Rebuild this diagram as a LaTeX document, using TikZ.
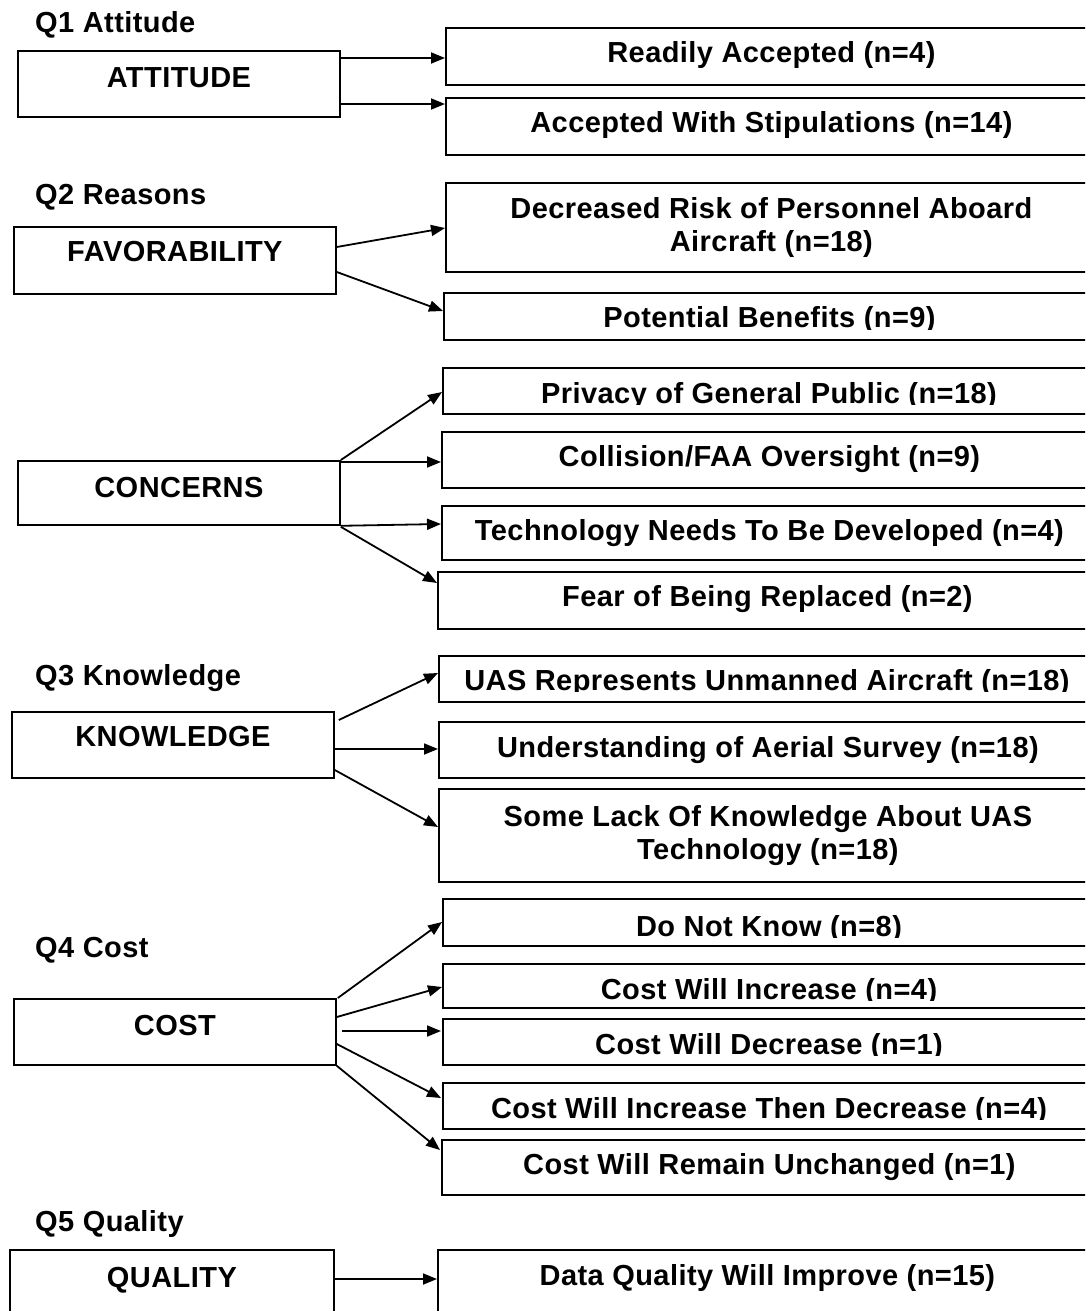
\documentclass[tikz,border=0pt]{standalone}
\usepackage{fontspec}
\setmainfont[LetterSpace=1.5]{Liberation Sans}
\usetikzlibrary{arrows.meta,calc}
\begin{document}
\begin{tikzpicture}[x=1pt,y=-1pt,
  every node/.style={font=\fontsize{29}{33}\selectfont\bfseries},
  bx/.style={draw, line width=1.8pt, inner xsep=0pt, inner ysep=0pt, anchor=north west},
  lb/.style={inner sep=0pt},
  arr/.style={line width=1.8pt, -{Triangle[length=14pt,width=11pt]}}]
\useasboundingbox (0,0) rectangle (1085,1311);
\clip (0,0) rectangle (1085,1311);

% question labels
\node[lb, anchor=base west] (q1) at (35,33) {Q1 Attitude};
\node[lb, anchor=base west] (q2) at (35,204) {Q2 Reasons};
\node[lb, anchor=base west] (q3) at (35,685) {Q3 Knowledge};
\node[lb, anchor=base west] (q4) at (35,957) {Q4 Cost};
\node[lb, anchor=base west] (q5) at (35,1231) {Q5 Quality};

% left boxes
\node[bx, minimum width=322pt, text height=37pt, text depth=29pt] (att) at (17,50) {ATTITUDE};
\node[bx, minimum width=322pt, text height=35pt, text depth=32pt] (fav) at (13,226) {FAVORABILITY};
\node[bx, minimum width=322pt, text height=37pt, text depth=27pt] (con) at (17,460) {CONCERNS};
\node[bx, minimum width=322pt, text height=35pt, text depth=31pt] (kno) at (11,711) {KNOWLEDGE};
\node[bx, minimum width=322pt, text height=37pt, text depth=29pt] (cost) at (13,998) {COST};
\node[bx, minimum width=324pt, text height=38pt, text depth=29pt] (qua) at (9,1249) {QUALITY};

% right boxes
\node[bx, minimum width=651pt, text height=35pt, text depth=22pt] (ra) at (445,27) {Readily Accepted (n=4)};
\node[bx, minimum width=651pt, text height=35pt, text depth=22pt] (aws) at (445,97) {Accepted With Stipulations (n=14)};
\node[bx, minimum width=651pt, minimum height=89pt, align=center] (dr) at (445,182) {Decreased Risk of Personnel Aboard\\Aircraft (n=18)};

\node[bx, minimum width=653pt, minimum height=47pt] (pb) at (443,292) {};
\begin{scope}
\clip (pb.north west) rectangle ($(pb.north east)+(0,37.5)$);
\node[lb, anchor=base] (pbt) at (769.5,327.5) {Potential Benefits (n=9)};
\end{scope}

\node[bx, minimum width=654pt, minimum height=46pt] (pr) at (442,367) {};
\begin{scope}
\clip (pr.north west) rectangle ($(pr.north east)+(0,37.5)$);
\node[lb, anchor=base] (prt) at (769,403) {Privacy of General Public (n=18)};
\end{scope}

\node[bx, minimum width=655pt, text height=35pt, text depth=21pt] (co) at (441,431) {Collision/FAA Oversight (n=9)};
\node[bx, minimum width=655pt, text height=35pt, text depth=19pt] (te) at (441,505) {Technology Needs To Be Developed (n=4)};
\node[bx, minimum width=659pt, text height=35pt, text depth=22pt] (fe) at (437,571) {Fear of Being Replaced (n=2)};

\node[bx, minimum width=658pt, minimum height=46pt] (uas) at (438,655) {};
\begin{scope}
\clip (uas.north west) rectangle ($(uas.north east)+(0,36.5)$);
\node[lb, anchor=base] (uast) at (767,690) {UAS Represents Unmanned Aircraft (n=18)};
\end{scope}

\node[bx, minimum width=658pt, text height=36pt, text depth=20pt] (un) at (438,721) {Understanding of Aerial Survey (n=18)};
\node[bx, minimum width=658pt, minimum height=93pt, align=center] (sl) at (438,788) {Some Lack Of Knowledge About UAS\\Technology (n=18)};

\node[bx, minimum width=654pt, minimum height=47pt] (dn) at (442,898) {};
\begin{scope}
\clip (dn.north west) rectangle ($(dn.north east)+(0,39.5)$);
\node[lb, anchor=base] (dnt) at (769,936) {Do Not Know (n=8)};
\end{scope}

\node[bx, minimum width=654pt, minimum height=44pt] (ci) at (442,963) {};
\begin{scope}
\clip (ci.north west) rectangle ($(ci.north east)+(0,37.5)$);
\node[lb, anchor=base] (cit) at (769,999) {Cost Will Increase (n=4)};
\end{scope}

\node[bx, minimum width=654pt, minimum height=46pt] (cd) at (442,1018) {};
\begin{scope}
\clip (cd.north west) rectangle ($(cd.north east)+(0,37.5)$);
\node[lb, anchor=base] (cdt) at (769,1054) {Cost Will Decrease (n=1)};
\end{scope}

\node[bx, minimum width=654pt, minimum height=46pt] (cid) at (442,1082) {};
\begin{scope}
\clip (cid.north west) rectangle ($(cid.north east)+(0,37.5)$);
\node[lb, anchor=base] (cidt) at (769,1118) {Cost Will Increase Then Decrease (n=4)};
\end{scope}

\node[bx, minimum width=655pt, text height=35pt, text depth=20pt] (cr) at (441,1139) {Cost Will Remain Unchanged (n=1)};
\node[bx, minimum width=659pt, text height=36pt, text depth=31pt] (dq) at (437,1249) {Data Quality Will Improve (n=15)};

% connectors
\draw[arr] ($(att.north east)+(0,8)$) -- ($(ra.north west)+(0,31)$);
\draw[arr] ($(att.north east)+(0,54)$) -- ($(aws.north west)+(0,7)$);

\draw[arr] ($(fav.north east)+(0,21)$) -- ($(dr.north west)+(0,46)$);
\draw[arr] ($(fav.north east)+(0,46)$) -- ($(pb.north west)+(0,19)$);

\draw[arr] (con.north east) -- ($(pr.north west)+(0,25)$);
\draw[arr] ($(con.north east)+(0,2)$) -- ($(co.north west)+(0,31)$);
\draw[arr] (con.south east) -- ($(te.north west)+(0,19)$);
\draw[arr] ($(con.south east)+(0,1)$) -- ($(fe.north west)+(0,12)$);

\draw[arr] ($(kno.north east)+(4,9)$) -- ($(uas.north west)+(0,18)$);
\draw[arr] ($(kno.north east)+(0,38)$) -- ($(un.north west)+(0,28)$);
\draw[arr] ($(kno.north east)+(0,59)$) -- ($(sl.north west)+(0,39)$);

\draw[arr] ($(cost.north east)+(1,0)$) -- ($(dn.north west)+(0,24)$);
\draw[arr] ($(cost.north east)+(0,19)$) -- ($(ci.north west)+(0,24)$);
\draw[arr] ($(cost.north east)+(5,33)$) -- ($(cd.north west)+(-1,13)$);
\draw[arr] ($(cost.north east)+(0,46)$) -- ($(cid.north west)+(-1,16)$);
\draw[arr] (cost.south east) -- ($(cr.north west)+(-1,11)$);

\draw[arr] ($(qua.north east)+(0,30)$) -- ($(dq.north west)+(0,30)$);
\end{tikzpicture}
\end{document}
